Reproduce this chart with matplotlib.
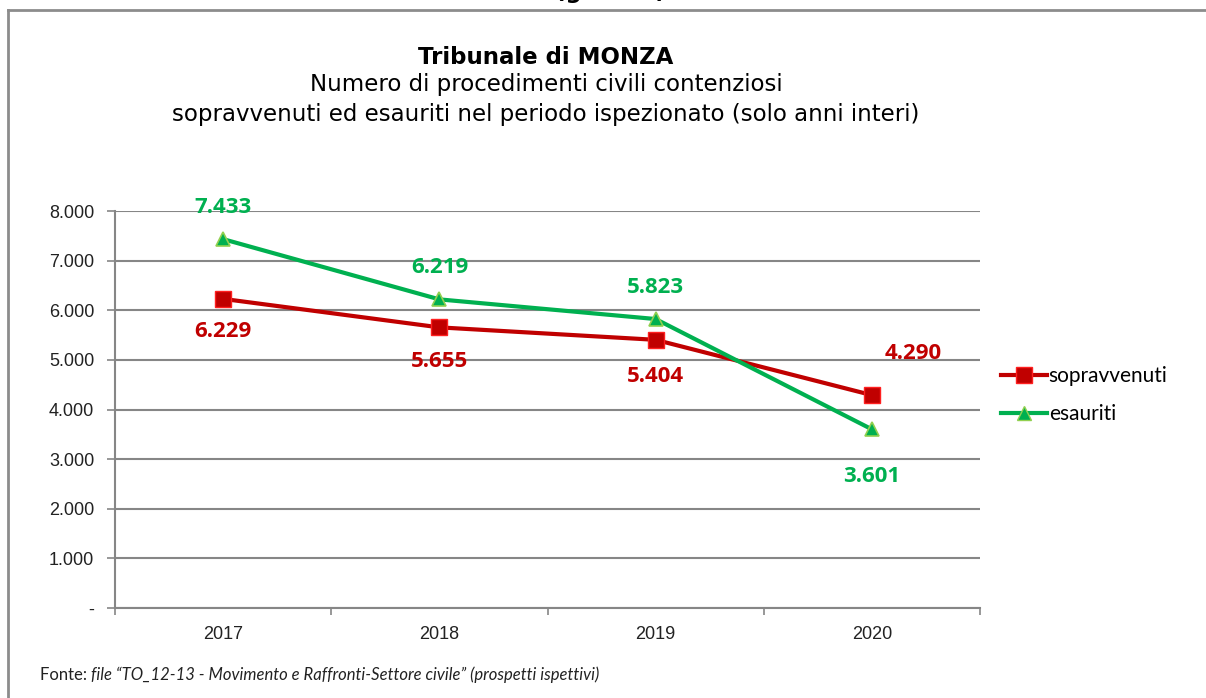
import matplotlib
matplotlib.use("Agg")
import matplotlib.pyplot as plt
from matplotlib.lines import Line2D
from matplotlib.ticker import FuncFormatter, FixedLocator

years = ["2017", "2018", "2019", "2020"]
sopravvenuti = [6229, 5655, 5404, 4290]
esauriti = [7433, 6219, 5823, 3601]
series_names = ["sopravvenuti", "esauriti"]
y_ticks = [0, 1000, 2000, 3000, 4000, 5000, 6000, 7000, 8000]

title = "Tribunale di MONZA"
subtitle_1 = "Numero di procedimenti civili contenziosi"
subtitle_2 = "sopravvenuti ed esauriti nel periodo ispezionato (solo anni interi)"
footer_head = "Fonte: "
footer_body = "file \u201cTO_12-13 - Movimento e Raffronti-Settore civile\u201d (prospetti ispettivi)"

RED = "#C00000"
GREEN = "#00B050"
GRID = "#868686"


def it_thousands(v, pos=None):
    if v == 0:
        return "-"
    return f"{int(v):,}".replace(",", ".")


fig = plt.figure(figsize=(12.06, 6.98), dpi=100)
ax = fig.add_axes([115 / 1206, 1 - 608 / 698, 865 / 1206, 397 / 698])

x = list(range(len(years)))
ax.plot(x, sopravvenuti, color=RED, linewidth=3, marker="s", markersize=11,
        markerfacecolor=RED, markeredgecolor="#FF2020", markeredgewidth=1, zorder=3)
ax.plot(x, esauriti, color=GREEN, linewidth=3, marker="^", markersize=10.5,
        markerfacecolor=GREEN, markeredgecolor="#92D050", markeredgewidth=1.2, zorder=4)

### data labels (offsets in pixels)
red_offsets = [(0, -33), (0, -34), (0, -37), (41, 42)]
green_offsets = [(0, 32), (0, 32), (0, 32), (0, -47)]
for i, v in enumerate(sopravvenuti):
    ax.annotate(it_thousands(v), (x[i], v), xytext=red_offsets[i], textcoords="offset pixels",
                ha="center", va="center", color=RED, fontsize=16, fontweight="bold",
                family="Open Sans", annotation_clip=False)
for i, v in enumerate(esauriti):
    ax.annotate(it_thousands(v), (x[i], v), xytext=green_offsets[i], textcoords="offset pixels",
                ha="center", va="center", color=GREEN, fontsize=16, fontweight="bold",
                family="Open Sans", annotation_clip=False)

ax.set_xlim(-0.5, len(years) - 0.5)
ax.set_ylim(0, 8000)
ax.set_yticks(y_ticks)
ax.yaxis.set_major_formatter(FuncFormatter(it_thousands))
ax.yaxis.grid(True, color=GRID, linewidth=1.5)
ax.set_axisbelow(True)

ax.set_xticks(x)
ax.set_xticklabels(years)
ax.xaxis.set_minor_locator(FixedLocator([i - 0.5 for i in range(len(years) + 1)]))
ax.tick_params(axis="x", which="major", length=0, pad=13)
ax.tick_params(axis="x", which="minor", length=5, color=GRID, width=1.2, direction="out")
ax.tick_params(axis="y", length=6, color=GRID, width=1.2, pad=9)
for lbl in ax.get_xticklabels() + ax.get_yticklabels():
    lbl.set_family("Liberation Sans")
    lbl.set_fontsize(13)
    lbl.set_color("#222222")

for side in ["top", "right"]:
    ax.spines[side].set_visible(False)
for side in ["left", "bottom"]:
    ax.spines[side].set_color(GRID)
    ax.spines[side].set_linewidth(1.5)

### legend
handles = [
    Line2D([], [], color=RED, linewidth=3, marker="s", markersize=11,
           markerfacecolor=RED, markeredgecolor="#FF2020"),
    Line2D([], [], color=GREEN, linewidth=3, marker="^", markersize=10.5,
           markerfacecolor=GREEN, markeredgecolor="#92D050"),
]
leg = fig.legend(handles, series_names, loc="center left",
                 bbox_to_anchor=(982 / 1206, 1 - 395 / 698), frameon=False,
                 prop={"family": "Lato", "size": 15}, handlelength=2.2,
                 handletextpad=0.1, labelspacing=0.85)

### titles
fig.text(546 / 1206, 1 - 57 / 698, title, ha="center", va="center",
         fontsize=16.5, fontweight="bold", family="DejaVu Sans")
fig.text(546 / 1206, 1 - 85 / 698, subtitle_1, ha="center", va="center",
         fontsize=16.5, family="DejaVu Sans")
fig.text(546 / 1206, 1 - 115 / 698, subtitle_2, ha="center", va="center",
         fontsize=16.5, family="DejaVu Sans")
fig.text(610 / 1206, 1 + 2 / 698, "(grafico)", ha="center", va="baseline",
         fontsize=16.5, fontweight="bold", family="DejaVu Sans")

### frame (only left and top edges are inside the picture)
fig.add_artist(Line2D([8 / 1206, 8 / 1206], [0, 1 - 10 / 698], color="#8C8C8C", linewidth=2))
fig.add_artist(Line2D([8 / 1206, 1], [1 - 10 / 698, 1 - 10 / 698], color="#8C8C8C", linewidth=2))

### footer
t1 = fig.text(40 / 1206, 1 - 675 / 698, footer_head, ha="left", va="center",
              fontsize=12, family="Lato", color="#222222")
fig.canvas.draw()
bb = t1.get_window_extent(renderer=fig.canvas.get_renderer())
fig.text(bb.x1 / 1206, 1 - 675 / 698, footer_body, ha="left", va="center",
         fontsize=12, family="Lato", style="italic", color="#222222")

fig.savefig("out.png", dpi=100)
